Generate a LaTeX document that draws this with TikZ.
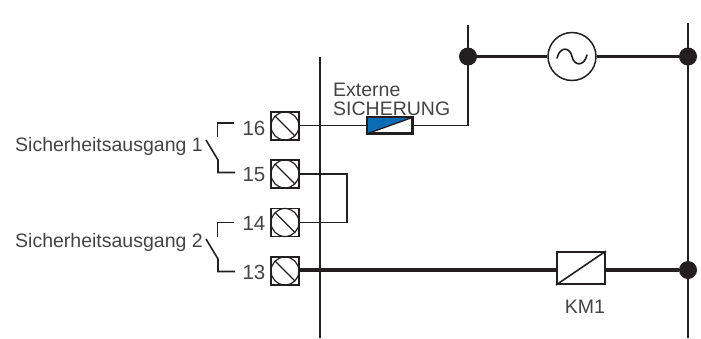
\documentclass[tikz,border=0pt]{standalone}
\usepackage{fontspec}
\setmainfont{Liberation Sans}
\definecolor{ink}{HTML}{231F20}
\definecolor{txt}{HTML}{444444}
\definecolor{fuseblue}{HTML}{0A6CB5}
\tikzset{
  lbl/.style={inner sep=0pt,text=txt,font=\fontsize{19.5}{20}\selectfont,anchor=base west},
  num/.style={inner sep=0pt,text=txt,font=\fontsize{20.5}{21}\selectfont,anchor=base east},
  term/.style={draw=ink,line width=1.2pt,minimum size=28pt,inner sep=0pt,rectangle},
  thin wire/.style={draw=ink,line width=1.9pt},
  thick wire/.style={draw=ink,line width=3.4pt},
  rail/.style={draw=ink,line width=2.4pt},
  contact/.style={draw=ink,line width=1.6pt},
  dot/.style={circle,fill=ink,minimum size=18pt,inner sep=0pt},
}
\newcommand{\screw}[1]{%
  \draw[ink,line width=1.2pt] (#1) circle (14pt);
  \draw[ink,line width=1.2pt] ($(#1)+(-10,-10)$) -- ($(#1)+(10,10)$);
}
\usetikzlibrary{calc}
\begin{document}
\begin{tikzpicture}[x=1pt,y=-1pt]
\useasboundingbox (0,0) rectangle (701,338);
% rails
\coordinate (railAtop) at (320,57); \coordinate (railAbot) at (320,338);
\coordinate (railBtop) at (468,25);
\coordinate (railCtop) at (688,23); \coordinate (railCbot) at (688,338);
\draw[rail] (railAtop) -- (railAbot);
\draw[rail] (railCtop) -- (railCbot);
% terminals
\node[term] (t16) at (285,126) {};
\node[term] (t15) at (285,174) {};
\node[term] (t14) at (285,222.5) {};
\node[term] (t13) at (285,271) {};
\screw{t16}\screw{t15}\screw{t14}\screw{t13}
% junctions
\node[dot] (j1) at (468,56.5) {};
\node[dot] (j2) at (688,56.5) {};
\node[dot] (j3) at (688,270) {};
% source
\node[circle,draw=ink,line width=1.5pt,minimum size=48pt,inner sep=0pt,fill=white] (src) at (572,56.5) {};
\draw[ink,line width=1.6pt,line cap=round] (557,58) .. controls (560,46) and (570,47) .. (572,56.5) .. controls (574,66) and (584,67) .. (587,55);
% fuse
\node[draw=ink,line width=2pt,minimum width=44pt,minimum height=14.5pt,inner sep=0pt,fill=white,rectangle] (fuse) at (390,125.5) {};
\fill[fuseblue] (fuse.south west) -- (fuse.north west) -- (fuse.north east) -- cycle;
\draw[ink,line width=1.3pt] (fuse.south west) -- (fuse.north east);
\draw[ink,line width=2pt] (fuse.south west) rectangle (fuse.north east);
% coil
\node[draw=ink,line width=2pt,minimum width=48pt,minimum height=32pt,inner sep=0pt,rectangle] (km) at (581,268) {};
\draw[ink,line width=1.6pt] (km.south west) -- (km.north east);
% wires
\draw[thin wire] (t16.east |- 0,125.5) -- (fuse.west);
\draw[thin wire] (fuse.east) -| (railBtop);
\draw[thick wire] (j1) -- (src);
\draw[thick wire] (src) -- (j2);
\draw[thin wire] (t15.east) -- ++(47.5,0) |- (t14.east);
\draw[thick wire] (t13.east |- 0,270) -- (km.west |- 0,270);
\draw[thick wire] (km.east |- 0,270) -- (j3);
% contacts
\coordinate (c1a) at (234,123); \coordinate (c1b) at (217.5,123); \coordinate (c1c) at (217.5,137);
\coordinate (c1d) at (206,140); \coordinate (c1e) at (218,160); \coordinate (c1f) at (218,172.5); \coordinate (c1g) at (235,172.5);
\draw[contact] (c1a) -- (c1b) -- (c1c);
\draw[contact] (c1d) -- (c1e) -- (c1f) -- (c1g);
\coordinate (c2a) at (234,222.5); \coordinate (c2b) at (217.5,222.5); \coordinate (c2c) at (217.5,236.5);
\coordinate (c2d) at (206,239); \coordinate (c2e) at (218,259); \coordinate (c2f) at (218,271.5); \coordinate (c2g) at (235,271.5);
\draw[contact] (c2a) -- (c2b) -- (c2c);
\draw[contact] (c2d) -- (c2e) -- (c2f) -- (c2g);
% labels
\node[num] (n16) at (265.5,135) {16};
\node[num] (n15) at (265.5,181) {15};
\node[num] (n14) at (265.5,230) {14};
\node[num] (n13) at (265.5,279) {13};
\node[lbl] (s1) at (15,151.5) {Sicherheitsausgang 1};
\node[lbl] (s2) at (15,247.5) {Sicherheitsausgang 2};
\node[lbl] (e1) at (333,96) {Externe};
\node[lbl] (e2) at (333,115) {SICHERUNG};
\node[lbl,anchor=base] (kmt) at (585,313) {KM1};
\end{tikzpicture}
\end{document}
